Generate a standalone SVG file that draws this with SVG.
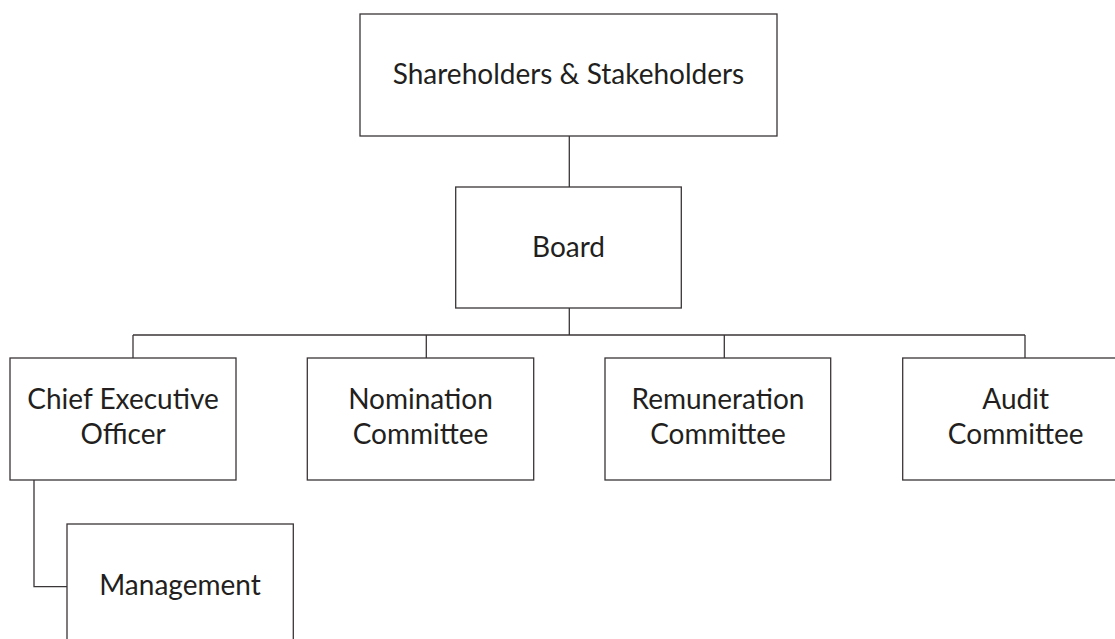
<svg xmlns="http://www.w3.org/2000/svg" width="1115" height="639" viewBox="0 0 1115 639">
<style>
  .box { fill: #ffffff; stroke: #3a3536; stroke-width: 1.3; }
  .lbl { font-family: Lato, "Open Sans", sans-serif; font-size: 28px; fill: #231f20; text-anchor: middle; }
  .conn { fill: none; stroke: #3a3536; stroke-width: 1.3; }
</style>
<rect width="1115" height="639" fill="#ffffff"/>
<g id="connectors">
  <line class="conn" x1="569.3" y1="136" x2="569.3" y2="187"/>
  <line class="conn" x1="569.3" y1="308" x2="569.3" y2="335"/>
  <line class="conn" x1="133" y1="335" x2="1025" y2="335"/>
  <line class="conn" x1="133" y1="335" x2="133" y2="358"/>
  <line class="conn" x1="426.3" y1="335" x2="426.3" y2="358"/>
  <line class="conn" x1="724.3" y1="335" x2="724.3" y2="358"/>
  <line class="conn" x1="1025" y1="335" x2="1025" y2="358"/>
  <polyline class="conn" points="34,480 34,586.7 67,586.7"/>
</g>
<g id="shareholders">
  <rect class="box" x="360" y="14" width="417" height="122"/>
  <text class="lbl" x="568.5" y="84">Shareholders &amp; Stakeholders</text>
</g>
<g id="board">
  <rect class="box" x="455.7" y="187" width="225.6" height="121"/>
  <text class="lbl" x="568.5" y="257">Board</text>
</g>
<g id="ceo">
  <rect class="box" x="10" y="358" width="226" height="122"/>
  <text class="lbl" x="123" y="409">Chief Executive</text>
  <text class="lbl" x="123" y="444">Officer</text>
</g>
<g id="nomination">
  <rect class="box" x="307.3" y="358" width="226.4" height="122"/>
  <text class="lbl" x="420.5" y="409">Nomination</text>
  <text class="lbl" x="420.5" y="444">Committee</text>
</g>
<g id="remuneration">
  <rect class="box" x="605" y="358" width="225.7" height="122"/>
  <text class="lbl" x="718" y="409">Remuneration</text>
  <text class="lbl" x="718" y="444">Committee</text>
</g>
<g id="audit">
  <rect class="box" x="902.7" y="358" width="226" height="122"/>
  <text class="lbl" x="1015.7" y="409">Audit</text>
  <text class="lbl" x="1015.7" y="444">Committee</text>
</g>
<g id="management">
  <rect class="box" x="67" y="524" width="226.3" height="130"/>
  <text class="lbl" x="180" y="595">Management</text>
</g>
</svg>
